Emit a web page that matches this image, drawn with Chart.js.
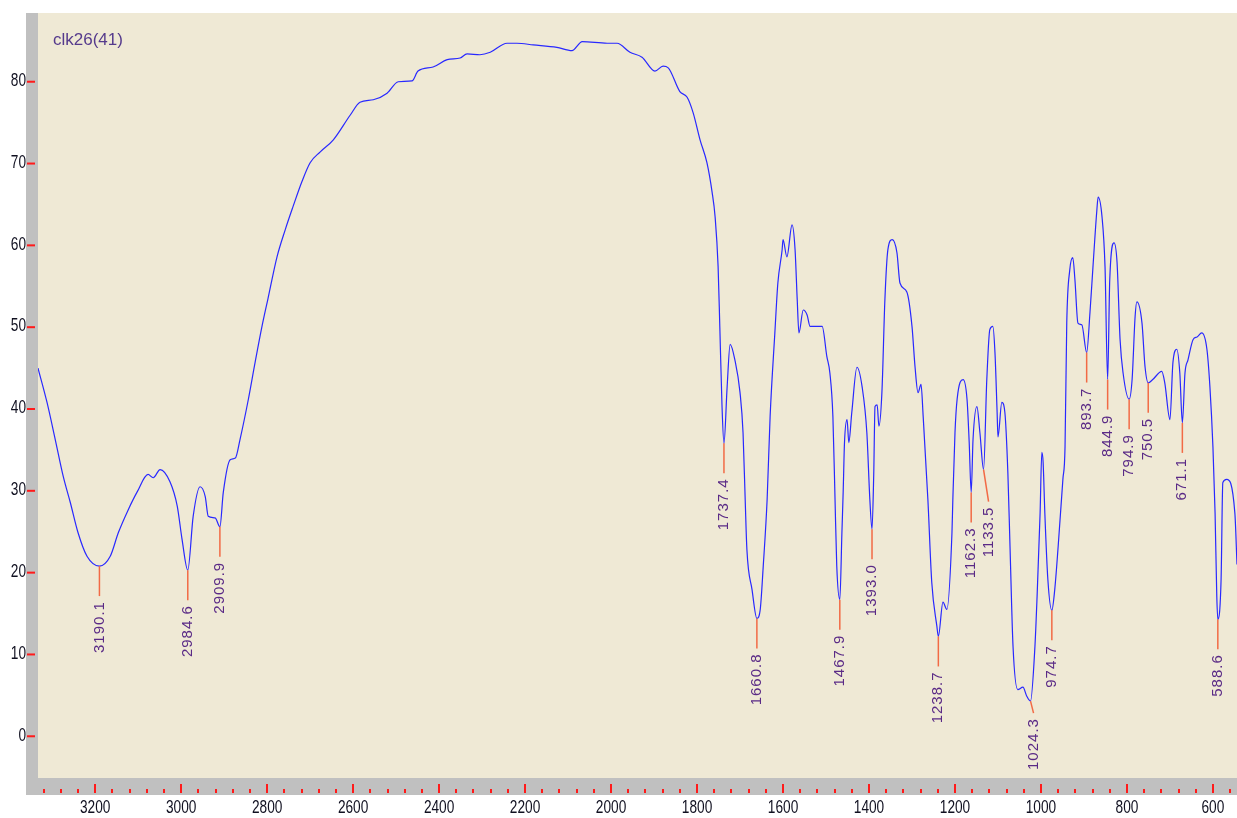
<!DOCTYPE html>
<html>
<head>
<meta charset="utf-8">
<script src="https://cdn.jsdelivr.net/npm/chart.js@4.4.1/dist/chart.umd.min.js"></script>
<style>
  html, body { margin: 0; padding: 0; background: #fff; }
  #wrap { width: 1237px; height: 818px; }
</style>
</head>
<body>
<div id="wrap"><canvas id="ir" width="1237" height="818"></canvas></div>
<script>
const sampleName = 'clk26(41)';

// spectrum (cm-1 / %T)
const wavenumber = [
  3333, 3312, 3293, 3274, 3258, 3240, 3219, 3190.1, 3165, 3146, 3123, 3102, 3077, 3065, 3049, 3026, 3009, 2998,
  2984.6, 2972, 2956, 2944, 2937, 2921, 2909.9, 2902, 2886, 2874, 2863, 2844, 2828, 2812, 2798, 2777, 2758, 2740,
  2719, 2700, 2677, 2646, 2607, 2584, 2553, 2521, 2495, 2463, 2449, 2414, 2381, 2351, 2335, 2305, 2281, 2242,
  2219, 2181, 2126, 2091, 2067, 2009, 1986, 1956, 1928, 1898, 1879, 1867, 1840, 1823, 1809, 1793, 1777, 1765,
  1758, 1751, 1747, 1742, 1737.4, 1730, 1723, 1712, 1700, 1693, 1688, 1684, 1672, 1660.8, 1653, 1646, 1637, 1630,
  1619, 1612, 1602, 1600, 1591, 1579, 1572, 1567, 1563, 1553, 1544, 1537, 1509, 1498, 1491, 1484, 1479, 1475,
  1467.9, 1463, 1460, 1457, 1451, 1447, 1440, 1428, 1416, 1405, 1398, 1393.0, 1389, 1386, 1381, 1377, 1370, 1363,
  1356, 1346, 1335, 1328, 1312, 1300, 1293, 1286, 1279, 1274, 1263, 1254, 1242, 1238.7, 1228, 1219, 1207, 1205,
  1200, 1195, 1181, 1172, 1167, 1162.3, 1158, 1149, 1142, 1133.5, 1126, 1119, 1112, 1107, 1102, 1100, 1091, 1084,
  1077, 1072, 1065, 1054, 1042, 1033, 1024.3, 1014, 1009, 1002, 998, 995, 991, 984, 974.7, 968, 960, 949, 944,
  940, 933, 926, 921, 914, 905, 893.7, 886, 879, 870, 867, 858, 851, 844.9, 840, 830, 823, 816, 809, 794.9, 788,
  781, 777, 765, 758, 750.5, 740, 719, 712, 700, 693, 684, 677, 671.1, 665, 658, 646, 637, 626, 614, 607, 600,
  595, 591, 588.6, 581, 577, 568, 549, 544
];
const transmittance = [
  45.0, 40.8, 36.3, 31.7, 28.6, 24.9, 22.0, 20.8, 22.0, 24.9, 27.7, 29.9, 32.0, 31.6, 32.6, 31.1, 28.1, 24.1,
  20.3, 26.9, 30.5, 29.3, 26.9, 26.7, 25.6, 29.8, 33.8, 34.0, 36.3, 41.1, 45.7, 50.1, 53.5, 58.6, 61.9, 64.7,
  67.8, 70.1, 71.4, 72.9, 75.9, 77.5, 77.8, 78.6, 80.0, 80.1, 81.3, 81.8, 82.7, 82.9, 83.4, 83.3, 83.6, 84.7,
  84.7, 84.5, 84.2, 83.8, 84.9, 84.7, 84.7, 83.6, 83.0, 81.3, 81.9, 81.7, 78.8, 78.1, 76.2, 72.9, 70.1, 66.5,
  63.5, 57.4, 50.0, 40.5, 35.8, 42.7, 47.9, 46.0, 42.0, 37.1, 28.9, 22.8, 17.9, 14.4, 15.5, 20.8, 28.9, 39.1,
  49.3, 55.4, 59.5, 60.7, 58.6, 62.5, 59.5, 53.4, 49.3, 52.1, 51.5, 50.1, 50.1, 46.4, 44.4, 39.1, 28.9, 20.8,
  16.7, 24.9, 30.0, 35.9, 38.7, 35.9, 39.6, 45.1, 42.7, 37.1, 28.9, 25.3, 32.0, 40.3, 40.5, 37.9, 42.0, 53.4,
  59.5, 60.7, 59.1, 55.4, 54.3, 50.1, 45.2, 42.0, 43.0, 39.1, 28.9, 18.8, 13.4, 12.2, 16.4, 15.5, 24.9, 28.9,
  37.1, 41.2, 43.6, 41.2, 36.0, 29.8, 36.3, 40.3, 37.1, 32.6, 43.6, 49.7, 50.1, 46.9, 39.6, 36.6, 40.8, 39.6,
  32.2, 23.2, 11.0, 5.7, 6.0, 4.9, 4.3, 11.0, 17.1, 27.3, 34.7, 33.5, 27.3, 19.2, 15.4, 17.9, 23.2, 31.4, 35.4,
  50.5, 57.0, 58.5, 55.8, 50.5, 50.3, 46.9, 51.8, 57.4, 64.3, 65.9, 63.5, 57.4, 43.6, 55.8, 60.3, 57.9, 48.5, 44.4, 41.2, 43.6,
  51.3, 53.1, 50.5, 45.2, 43.2, 43.6, 44.6, 43.2, 38.7, 45.7, 47.3, 44.4, 38.3, 44.4, 46.0, 48.5, 48.8, 49.3, 47.3, 42.7, 35.4,
  27.3, 17.1, 14.3, 19.2, 31.0, 31.4, 27.3, 21.0
];

const peakWavenumbers = [3190.1, 2984.6, 2909.9, 1737.4, 1660.8, 1467.9, 1393.0, 1238.7, 1162.3,
  1133.5, 1024.3, 974.7, 893.7, 844.9, 794.9, 750.5, 671.1, 588.6];

const xTicks = [3200, 3000, 2800, 2600, 2400, 2200, 2000, 1800, 1600, 1400, 1200, 1000, 800, 600];
const yTicks = [0, 10, 20, 30, 40, 50, 60, 70, 80];

// narrow axis numbers: Liberation Sans squeezed sideways
function narrowText(ctx, text, x, y, align) {
  ctx.save();
  ctx.translate(x, y);
  ctx.scale(0.72, 1);
  ctx.textAlign = align;
  ctx.fillText(text, 0, 0);
  ctx.restore();
}

// frame, red ticks, axis numbers, peak picks and sample name
const irFrame = {
  id: 'irFrame',
  beforeDraw(chart) {
    const { ctx, chartArea: a, scales } = chart;
    ctx.save();
    ctx.fillStyle = '#ffffff';
    ctx.fillRect(0, 0, chart.width, chart.height);
    ctx.fillStyle = '#efe9d5';
    ctx.fillRect(a.left, a.top, a.right - a.left, a.bottom - a.top);
    ctx.fillStyle = '#c0c0c0';
    ctx.fillRect(a.left - 12, a.top, 12, a.bottom - a.top + 17);
    ctx.fillRect(a.left - 12, a.bottom, chart.width - a.left + 12, 17);

    ctx.fillStyle = '#ff1a1a';
    yTicks.forEach(v => {
      const y = scales.y.getPixelForValue(v);
      ctx.fillRect(a.left - 11, y - 1, 8, 2);
    });
    const step = (xTicks[0] - xTicks[1]) / 5;
    const xs = scales.x;
    for (let v = Math.ceil(xs.min / step) * step; v <= xs.max; v += step) {
      const x = Math.round(xs.getPixelForValue(v));
      if (xTicks.includes(v)) ctx.fillRect(x - 1, a.bottom + 6, 2, 9);
      else ctx.fillRect(x - 1, a.bottom + 11, 2, 4);
    }

    ctx.fillStyle = '#101020';
    ctx.font = "19px 'Liberation Sans', Arial, sans-serif";
    ctx.textBaseline = 'middle';
    yTicks.forEach(v => narrowText(ctx, String(v), a.left - 12, scales.y.getPixelForValue(v) - 1, 'right'));
    xTicks.forEach(v => narrowText(ctx, String(v), xs.getPixelForValue(v), a.bottom + 30, 'center'));
    ctx.restore();
  },
  afterDatasetsDraw(chart, args, opts) {
    const { ctx, chartArea: a, scales } = chart;
    ctx.save();
    ctx.font = "17px 'Liberation Sans', Arial, sans-serif";
    ctx.fillStyle = '#553a8c';
    ctx.textBaseline = 'alphabetic';
    ctx.fillText(sampleName, a.left + 15, a.top + 32);

    ctx.font = "15px 'Liberation Sans', Arial, sans-serif";
    ctx.letterSpacing = '1px';
    peakWavenumbers.forEach(p => {
      const i = wavenumber.indexOf(p);
      const px = scales.x.getPixelForValue(p);
      const py = scales.y.getPixelForValue(transmittance[i]);
      const label = p.toFixed(1);
      const o = opts.shift[label] || {};
      const len = o.len || 30, dx = o.dx || 0;
      ctx.strokeStyle = '#f26a45';
      ctx.lineWidth = 1.5;
      ctx.beginPath();
      ctx.moveTo(px, py);
      ctx.lineTo(px + dx, py + len);
      ctx.stroke();
      ctx.save();
      ctx.translate(px + dx, py + len + 5);
      ctx.rotate(-Math.PI / 2);
      ctx.fillStyle = '#5a2a86';
      ctx.textAlign = 'right';
      ctx.textBaseline = 'middle';
      ctx.fillText(label, 0, 0);
      ctx.restore();
    });
    ctx.restore();
  }
};

new Chart(document.getElementById('ir'), {
  type: 'scatter',
  data: {
    datasets: [{
      data: wavenumber.map((w, i) => ({ x: w, y: transmittance[i] })),
      showLine: true,
      borderColor: '#2828ff',
      borderWidth: 1.2,
      pointRadius: 0,
      cubicInterpolationMode: 'monotone'
    }]
  },
  options: {
    responsive: false,
    devicePixelRatio: 1,
    animation: false,
    layout: { padding: { top: 13, right: 0, left: 0, bottom: 0 } },
    plugins: {
      legend: { display: false },
      tooltip: { enabled: false },
      irFrame: { shift: { '1024.3': { len: 12, dx: 3 }, '1133.5': { len: 32, dx: 5 } } }
    },
    scales: {
      x: {
        type: 'linear',
        reverse: true,
        min: 544,
        max: 3333,
        afterBuildTicks: s => { s.ticks = xTicks.map(v => ({ value: v })); },
        afterFit: s => { s.height = 40; s.paddingLeft = 0; s.paddingRight = 0; },
        grid: { display: false, drawTicks: false },
        border: { display: false },
        ticks: { display: false }
      },
      y: {
        min: -5.1,
        max: 88.4,
        afterBuildTicks: s => { s.ticks = yTicks.map(v => ({ value: v })); },
        afterFit: s => { s.width = 38; s.paddingTop = 0; s.paddingBottom = 0; },
        grid: { display: false, drawTicks: false },
        border: { display: false },
        ticks: { display: false }
      }
    }
  },
  plugins: [irFrame]
});
</script>
</body>
</html>
